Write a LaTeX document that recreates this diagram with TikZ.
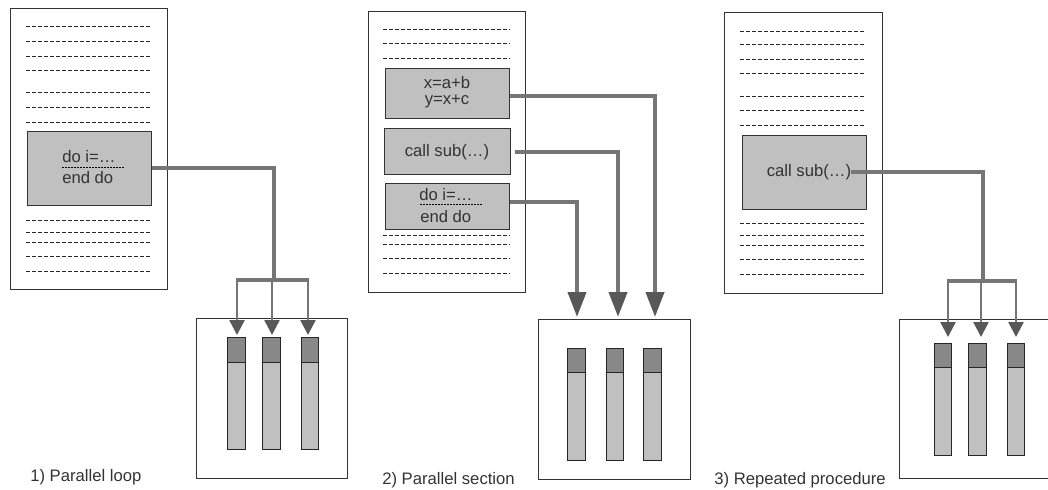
\documentclass[tikz,border=0pt]{standalone}
\usepackage{fontspec}
\setmainfont{Liberation Sans}
\usetikzlibrary{arrows.meta,fit}

\definecolor{wire}{RGB}{118,118,118}
\definecolor{tipgray}{RGB}{88,88,88}
\definecolor{boxgray}{RGB}{192,192,192}
\definecolor{headgray}{RGB}{136,136,136}
\definecolor{ink}{RGB}{51,51,51}

\tikzset{
  page/.style={draw=black!80, line width=0.75pt, inner sep=0pt},
  codebox/.style={draw=black!80, fill=boxgray, line width=0.75pt, inner sep=0pt},
  cpubox/.style={draw=black!80, line width=0.75pt, inner sep=0pt},
  barbody/.style={draw=black!85, fill=boxgray, line width=0.75pt, inner sep=0pt},
  barhead/.style={draw=black!85, fill=headgray, line width=0.75pt, inner sep=0pt},
  codetext/.style={font=\fontsize{12.5}{12}\selectfont, text=ink, inner sep=0pt},
  caption/.style={font=\fontsize{12.5}{15}\selectfont, text=ink, inner sep=0pt},
  textline/.style={line width=0.75pt, black!85, dash pattern=on 3pt off 1.5pt},
  underdots/.style={line width=0.75pt, black, dash pattern=on 1.5pt off 0.75pt},
  trunk/.style={draw=wire, line width=3pt},
  feeder/.style={draw=wire, line width=1.8pt,
    -{Triangle[length=11.25pt,width=11.25pt,color=tipgray,fill=tipgray]}},
  bigfeeder/.style={draw=wire, line width=3pt,
    -{Triangle[length=18.75pt,width=13.5pt,color=tipgray,fill=tipgray]}},
}

\begin{document}
\begin{tikzpicture}[x=0.75pt,y=-0.75pt]
\useasboundingbox (0,0) rectangle (1048,489);
\clip (0,0) rectangle (1048,489);

% ---------------- 1) parallel loop ----------------
\node[page, fit={(10,8)(167,289)}] (src1) {};
\foreach \y in {26,41,56,70,92,107,122,220,232,242,256,271}
  \draw[textline] (26,\y) -- (152,\y);
\node[codebox, fit={(27,131)(151,205)}] (loop1) {};
\node[codetext, anchor=west] (l1do) at (62,157) {do i=…};
\node[codetext, anchor=west] (l1end) at (62,178) {end do};
\draw[underdots] (62,167) -- (124,167);

\node[cpubox, fit={(196,318)(347,478)}] (cpu1) {};
\foreach \n/\xa/\xb in {a/227/245, b/262/280, c/301/318}{
  \node[barbody, fit={(\xa,337)(\xb,449)}] (p1\n) {};
  \node[barhead, fit={(\xa,337)(\xb,362)}] (p1\n h) {};
}
\coordinate (j1) at (274,280);
\coordinate (e1a) at (237,335);
\coordinate (e1b) at (272,335);
\coordinate (e1c) at (308,335);
\draw[trunk] (loop1.east) -| (j1);
\draw[trunk] ([xshift=-0.7pt]e1a |- j1) -- ([xshift=0.7pt]e1c |- j1);
\foreach \n in {a,b,c}
  \draw[feeder] (e1\n |- j1) -- (e1\n);

\node[caption, anchor=base west] (cap1) at (30,481) {1) Parallel loop};

% ---------------- 2) parallel section ----------------
\node[page, fit={(368,11)(525,292)}] (src2) {};
\foreach \y in {29,43,58,235,244,258,273}
  \draw[textline] (383,\y) -- (510,\y);
\node[codebox, fit={(385,68)(509,118)}] (secA) {};
\node[codetext, align=center] (sA) at (447,92) {x=a+b\\y=x+c};
\node[codebox, fit={(384,128)(510,174)}] (secB) {};
\node[codetext] (sB) at (447,152) {call sub(…)};
\node[codebox, fit={(385,183)(509,229)}] (secC) {};
\node[codetext, anchor=west] (sCdo) at (419,195) {do i=…};
\node[codetext, anchor=west] (sCend) at (420,217) {end do};
\draw[underdots] (420,204) -- (482,204);

\node[cpubox, fit={(538,319)(690,479)}] (cpu2) {};
\foreach \n/\xa/\xb in {a/567/585, b/606/623, c/643/661}{
  \node[barbody, fit={(\xa,348)(\xb,460)}] (p2\n) {};
  \node[barhead, fit={(\xa,348)(\xb,372)}] (p2\n h) {};
}
\coordinate (e2a) at (577,317);
\coordinate (e2b) at (618,317);
\coordinate (e2c) at (655,317);
\draw[bigfeeder] ([yshift=-2.25pt]secA.east) -| (e2c);
\draw[bigfeeder] ([xshift=3pt,yshift=-0.75pt]secB.east) -| (e2b);
\draw[bigfeeder] ([yshift=3pt]secC.east) -| (e2a);

\node[caption, anchor=base east] (cap2) at (515,484) {2) Parallel section};

% ---------------- 3) repeated procedure ----------------
\node[page, fit={(724,12)(882,293)}] (src3) {};
\foreach \y in {31,44,59,73,96,110,125,223,235,245,259,274}
  \draw[textline] (740,\y) -- (866,\y);
\node[codebox, fit={(742,135)(866,209)}] (rep3) {};
\node[codetext] (r3) at (809,172) {call sub(…)};

\node[cpubox, fit={(899,319)(1052,478)}] (cpu3) {};
\foreach \n/\xa/\xb in {a/934/951, b/968/986, c/1007/1024}{
  \node[barbody, fit={(\xa,343)(\xb,455)}] (p3\n) {};
  \node[barhead, fit={(\xa,343)(\xb,367)}] (p3\n h) {};
}
\coordinate (j3) at (983,281);
\coordinate (e3a) at (948,337);
\coordinate (e3b) at (981,337);
\coordinate (e3c) at (1016,337);
\draw[trunk] (r3.east) -| (j3);
\draw[trunk] ([xshift=-0.7pt]e3a |- j3) -- ([xshift=0.7pt]e3c |- j3);
\foreach \n in {a,b,c}
  \draw[feeder] (e3\n |- j3) -- (e3\n);

\node[caption, anchor=base east] (cap3) at (886,484) {3) Repeated procedure};
\end{tikzpicture}
\end{document}
